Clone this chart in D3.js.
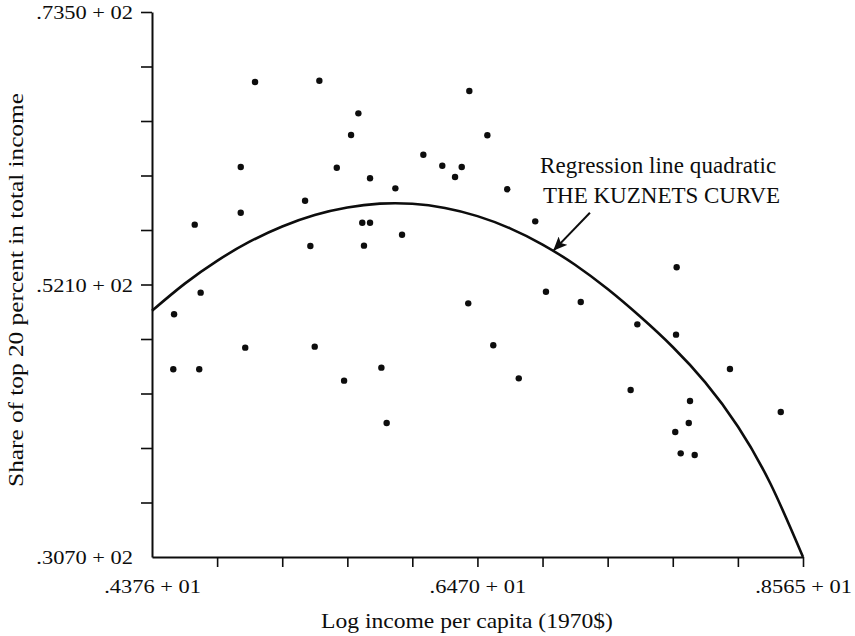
<!DOCTYPE html>
<html>
<head>
    <title>Kuznets curve scatter</title>
    <script src="https://d3js.org/d3.v7.min.js"></script>
    <style>
        body { margin: 0; background: #fff; }
        text { font-family: "Liberation Serif", "Times New Roman", serif; fill: #0d0d0d; }
        .dot { fill: #0d0d0d; }
        .curve { fill: none; stroke: #0d0d0d; stroke-width: 2.6px; }
    </style>
</head>
<body>
    <svg width="855" height="636"></svg>
    <script>
        // axis ticks and their labels
        var xTicks = [4.376, 4.795, 5.214, 5.633, 6.051, 6.470, 6.889, 7.308, 7.727, 8.146, 8.565];
        var xTickLabels = [".4376 + 01", "", "", "", "", ".6470 + 01", "", "", "", "", ".8565 + 01"];
        var yTicks = [30.70, 34.98, 39.26, 43.54, 47.82, 52.10, 56.38, 60.66, 64.94, 69.22, 73.50];
        var yTickLabels = [".3070 + 02", "", "", "", "", ".5210 + 02", "", "", "", "", ".7350 + 02"];

        // countries: log income per capita and share of top 20 percent
        var logIncome = [5.039, 5.453, 6.418, 5.704, 5.657, 4.947, 5.565, 6.122, 6.244, 6.369,
                         6.326, 5.779, 5.942, 5.361, 4.947, 4.651, 5.729, 5.779, 5.985, 5.395,
                         5.740, 6.534, 6.662, 6.842, 7.752, 4.689, 4.518, 4.976, 5.423, 4.513,
                         4.680, 5.612, 5.852, 5.886, 6.411, 6.911, 7.135, 7.499, 7.748, 6.572,
                         8.095, 6.736, 7.456, 7.838, 8.422, 7.830, 7.743, 7.778, 7.868];
        var topShare = [68.00, 68.10, 67.30, 65.54, 63.84, 61.33, 61.27, 62.29, 61.43, 61.33,
                        60.54, 60.44, 59.65, 58.68, 57.74, 56.80, 56.95, 56.95, 56.01, 55.12,
                        55.15, 63.82, 59.58, 57.06, 53.45, 51.46, 49.76, 47.14, 47.22, 45.44,
                        45.44, 44.55, 45.57, 41.22, 50.62, 51.53, 50.73, 48.97, 48.16, 47.33,
                        45.46, 44.73, 43.81, 42.95, 42.09, 41.22, 40.52, 38.84, 38.71];

        // fitted curve at every half tick
        var curveX = [4.376, 4.585, 4.795, 5.004, 5.214, 5.423, 5.633, 5.842, 6.051, 6.261, 6.470,
                      6.680, 6.889, 7.098, 7.308, 7.517, 7.727, 7.936, 8.146, 8.355, 8.565];
        var curveY = [50.04, 52.15, 53.96, 55.46, 56.66, 57.56, 58.15, 58.45, 58.44, 58.11, 57.47,
                      56.51, 55.24, 53.65, 51.74, 49.58, 47.19, 44.41, 40.95, 36.47, 30.70];

        var svg = d3.select("svg");

        var x = d3.scaleLinear().domain([4.376, 8.565]).range([152, 803]);
        var y = d3.scaleLinear().domain([30.70, 73.50]).range([557, 12]);

        // bottom axis
        var gx = svg.append("g")
            .attr("transform", "translate(0," + y(30.70) + ")")
            .call(d3.axisBottom(x).tickValues(xTicks).tickSize(10).tickSizeOuter(0)
                .tickFormat(function(d, i) { return xTickLabels[i]; }));

        // left axis
        var gy = svg.append("g")
            .attr("transform", "translate(" + x(4.376) + ",0)")
            .call(d3.axisLeft(y).tickValues(yTicks).tickSize(11).tickSizeOuter(0)
                .tickFormat(function(d, i) { return yTickLabels[i]; }));

        [gx, gy].forEach(function(g) {
            g.attr("font-family", null).attr("font-size", null);
            g.select(".domain").attr("stroke", "#0d0d0d").attr("stroke-width", 2);
            g.selectAll(".tick line").attr("stroke", "#0d0d0d").attr("stroke-width", 1.6);
            g.selectAll(".tick").filter(function(d, i) { return i === 0; })
                .select("line").remove();
        });

        gx.selectAll(".tick text")
            .attr("y", 0).attr("dy", 0)
            .attr("font-size", 19.5)
            .attr("transform", "translate(0,36) scale(1.15,1)");

        gy.selectAll(".tick text")
            .attr("x", 0).attr("dy", "0.35em")
            .attr("font-size", 19.5)
            .attr("text-anchor", "end")
            .attr("transform", "translate(-19,0) scale(1.15,1)");

        // axis titles
        svg.append("text")
            .attr("transform", "translate(467,628) scale(1.15,1)")
            .attr("text-anchor", "middle")
            .attr("font-size", 20.5)
            .text("Log income per capita (1970$)");

        svg.append("text")
            .attr("transform", "translate(23,290) rotate(-90) scale(1.15,1)")
            .attr("text-anchor", "middle")
            .attr("font-size", 22)
            .text("Share of top 20 percent in total income");

        // regression curve
        var line = d3.line()
            .x(function(d) { return x(d[0]); })
            .y(function(d) { return y(d[1]); })
            .curve(d3.curveNatural);

        svg.append("path")
            .attr("class", "curve")
            .attr("d", line(d3.zip(curveX, curveY)));

        // scatter points
        svg.selectAll(".dot")
            .data(d3.zip(logIncome, topShare))
            .enter().append("circle")
            .attr("class", "dot")
            .attr("cx", function(d) { return x(d[0]); })
            .attr("cy", function(d) { return y(d[1]); })
            .attr("r", 3.2);

        // annotation and arrow
        svg.append("defs").append("marker")
            .attr("id", "head")
            .attr("markerUnits", "userSpaceOnUse")
            .attr("viewBox", "0 0 14 12")
            .attr("markerWidth", 14).attr("markerHeight", 12)
            .attr("refX", 13).attr("refY", 6)
            .attr("orient", "auto")
            .append("path")
            .attr("d", "M0,0 L14,6 L0,12 L3,6 Z")
            .attr("fill", "#0d0d0d");

        svg.append("line")
            .attr("x1", x(7.194)).attr("y1", y(57.74))
            .attr("x2", x(6.962)).attr("y2", y(54.80))
            .attr("stroke", "#0d0d0d").attr("stroke-width", 2)
            .attr("marker-end", "url(#head)");

        var note = svg.append("text")
            .attr("x", x(6.873)).attr("y", y(60.86))
            .attr("font-size", 23);
        note.append("tspan")
            .attr("letter-spacing", 0.1)
            .text("Regression line quadratic");
        note.append("tspan")
            .attr("x", x(6.873) + 3).attr("dy", 30)
            .text("THE KUZNETS CURVE");
    </script>
</body>
</html>
